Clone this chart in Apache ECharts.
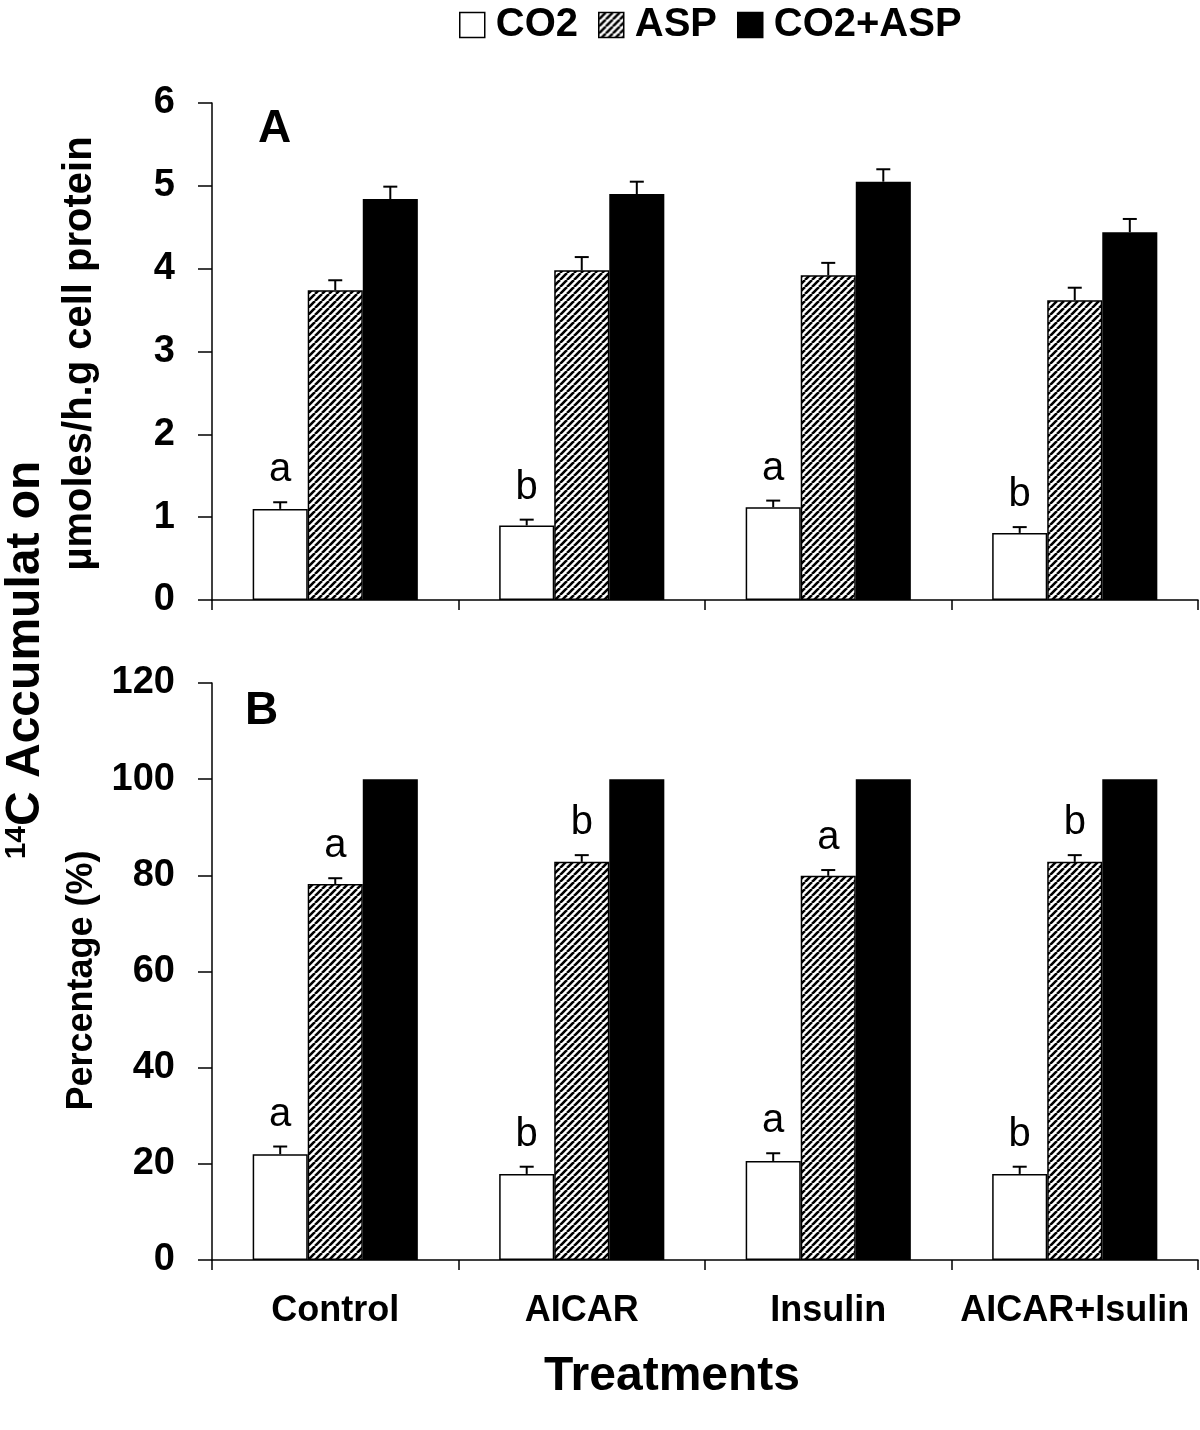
<!DOCTYPE html>
<html>
<head>
<meta charset="utf-8">
<script src="https://cdn.jsdelivr.net/npm/echarts@6/dist/echarts.min.js"></script>
<style>
html,body{margin:0;padding:0;background:#fff;}
#chart{width:1200px;height:1430px;}
</style>
</head>
<body>
<div id="chart"></div>
<script>
// ---- data ----
const categories = ['Control', 'AICAR', 'Insulin', 'AICAR+Isulin'];
const seriesNames = ['CO2', 'ASP', 'CO2+ASP'];

// Panel A: µmoles/h.g cell protein
const aCO2 = [1.10, 0.90, 1.12, 0.81];
const aCO2Err = [0.08, 0.07, 0.08, 0.07];
const aASP = [3.74, 3.98, 3.92, 3.62];
const aASPErr = [0.12, 0.16, 0.15, 0.15];
const aBoth = [4.84, 4.90, 5.05, 4.44];
const aBothErr = [0.15, 0.15, 0.15, 0.16];
const aCO2Letters = ['a', 'b', 'a', 'b'];

// Panel B: Percentage (%)
const bCO2 = [22.0, 17.9, 20.6, 17.9];
const bCO2Err = [1.6, 1.5, 1.6, 1.5];
const bASP = [78.2, 82.8, 79.9, 82.8];
const bASPErr = [1.2, 1.4, 1.2, 1.4];
const bBoth = [100, 100, 100, 100];
const bCO2Letters = ['a', 'b', 'a', 'b'];
const bASPLetters = ['a', 'b', 'a', 'b'];

const aTicks = {min: 0, max: 6, interval: 1};
const bTicks = {min: 0, max: 120, interval: 20};

// ---- styles ----
const FONT = '"Liberation Sans", Arial, Helvetica, sans-serif';
const CAT_GAP = 0.33;

function hatchCanvas() {
  const s = 7;
  const c = document.createElement('canvas');
  c.width = s; c.height = s;
  const g = c.getContext('2d');
  g.fillStyle = '#fff';
  g.fillRect(0, 0, s, s);
  g.strokeStyle = '#000';
  g.lineWidth = 2.6;
  g.beginPath();
  for (const o of [-s, 0, s]) { g.moveTo(o, s); g.lineTo(o + s, 0); }
  g.stroke();
  return c;
}
const hatch = {image: hatchCanvas(), repeat: 'repeat'};
const fills = ['#ffffff', hatch, '#000000'];

function barSeries(name, idx, data, axisIdx) {
  return {
    type: 'bar', name: name, data: data,
    xAxisIndex: axisIdx, yAxisIndex: axisIdx,
    barGap: '0%', barCategoryGap: (CAT_GAP * 100) + '%',
    itemStyle: {color: fills[idx], borderColor: '#000', borderWidth: 1.5},
    emphasis: {disabled: true},
    z: 2
  };
}

function errSeries(idx, vals, errs, letters, axisIdx) {
  const data = vals.map((v, i) => [i, v, errs ? errs[i] : 0]);
  return {
    type: 'custom', xAxisIndex: axisIdx, yAxisIndex: axisIdx,
    data: data, z: 3, silent: true,
    encode: {x: 0, y: 1},
    renderItem: function (params, api) {
      const cat = api.value(0), v = api.value(1), e = api.value(2);
      const band = api.size([1, 0])[0];
      const bw = band * (1 - CAT_GAP) / 3;
      const p = api.coord([cat, v]);
      const x = p[0] + (idx - 1) * bw;
      const y0 = p[1];
      const y1 = api.coord([cat, v + e])[1];
      const children = [];
      if (e > 0) {
        children.push({type: 'line', shape: {x1: x, y1: y0, x2: x, y2: y1}, style: {stroke: '#000', lineWidth: 2}});
        children.push({type: 'line', shape: {x1: x - 7, y1: y1, x2: x + 7, y2: y1}, style: {stroke: '#000', lineWidth: 2}});
      }
      const lt = letters ? letters[params.dataIndex] : null;
      if (lt) {
        children.push({type: 'text', style: {text: lt, x: x, y: y1 - 12, align: 'center', verticalAlign: 'bottom',
          fontSize: 40, fontFamily: FONT, fill: '#000'}});
      }
      return {type: 'group', children: children};
    }
  };
}

const axisLineStyle = {show: true, lineStyle: {color: '#000', width: 1.5}};

function xAxis(gridIndex, showLabels) {
  return {
    type: 'category', gridIndex: gridIndex, data: categories, boundaryGap: true,
    axisLine: axisLineStyle,
    axisTick: {show: true, interval: 0, length: 10, lineStyle: {color: '#000', width: 1.5}},
    axisLabel: {show: showLabels, interval: 0, fontSize: 36, fontWeight: 'bold', fontFamily: FONT, color: '#000', margin: 33},
    splitLine: {show: false}
  };
}

function yAxis(gridIndex, ticks, name, gap, size, pad) {
  return {
    type: 'value', gridIndex: gridIndex, min: ticks.min, max: ticks.max, interval: ticks.interval,
    axisLine: axisLineStyle,
    axisTick: {show: true, length: 14, lineStyle: {color: '#000', width: 1.5}},
    axisLabel: {fontSize: 38, fontWeight: 'bold', fontFamily: FONT, color: '#000', margin: 37},
    splitLine: {show: false},
    name: name, nameLocation: 'middle', nameRotate: 90, nameGap: gap,
    nameTextStyle: {fontSize: size, fontWeight: 'bold', fontFamily: FONT, color: '#000', padding: pad}
  };
}

const option = {
  animation: false,
  backgroundColor: '#fff',
  legend: {
    left: 454, top: 0, itemWidth: 25, itemHeight: 25, itemGap: 20,
    icon: 'rect', selectedMode: false,
    data: seriesNames,
    itemStyle: {borderColor: '#000', borderWidth: 1.5},
    textStyle: {fontSize: 40, fontWeight: 'bold', fontFamily: FONT, color: '#000', padding: [0, 0, 0, 6]}
  },
  grid: [
    {left: 212, right: 2, top: 103, height: 497},
    {left: 212, right: 2, top: 683, height: 577}
  ],
  xAxis: [xAxis(0, false), xAxis(1, true)],
  yAxis: [
    yAxis(0, aTicks, 'µmoles/h.g cell protein', 112, 40, [0, 4, 0, 0]),
    yAxis(1, bTicks, 'Percentage (%)', 112, 36, [0, 18, 0, 0])
  ],
  series: [
    barSeries(seriesNames[0], 0, aCO2, 0),
    barSeries(seriesNames[1], 1, aASP, 0),
    barSeries(seriesNames[2], 2, aBoth, 0),
    errSeries(0, aCO2, aCO2Err, aCO2Letters, 0),
    errSeries(1, aASP, aASPErr, null, 0),
    errSeries(2, aBoth, aBothErr, null, 0),
    barSeries(seriesNames[0], 0, bCO2, 1),
    barSeries(seriesNames[1], 1, bASP, 1),
    barSeries(seriesNames[2], 2, bBoth, 1),
    errSeries(0, bCO2, bCO2Err, bCO2Letters, 1),
    errSeries(1, bASP, bASPErr, bASPLetters, 1)
  ],
  graphic: [
    {type: 'text', left: 258, top: 106, style: {text: 'A', fontSize: 46, fontWeight: 'bold', fontFamily: FONT, fill: '#000'}},
    {type: 'text', left: 245, top: 688, style: {text: 'B', fontSize: 46, fontWeight: 'bold', fontFamily: FONT, fill: '#000'}},
    {type: 'text', x: 672, y: 1377,
      style: {text: 'Treatments', align: 'center', verticalAlign: 'middle', fontSize: 48, fontWeight: 'bold', fontFamily: FONT, fill: '#000'}},
    {type: 'text', x: 26, y: 660, rotation: Math.PI / 2,
      style: {text: '{s|14}{m|C Accumulat on}', align: 'center', verticalAlign: 'middle', fill: '#000',
        rich: {
          s: {fontSize: 30, fontWeight: 'bold', fontFamily: FONT, verticalAlign: 'top', fill: '#000'},
          m: {fontSize: 48, fontWeight: 'bold', fontFamily: FONT, fill: '#000'}
        }}}
  ]
};

const chart = echarts.init(document.getElementById('chart'), null, {renderer: 'canvas'});
chart.setOption(option);
</script>
</body>
</html>
